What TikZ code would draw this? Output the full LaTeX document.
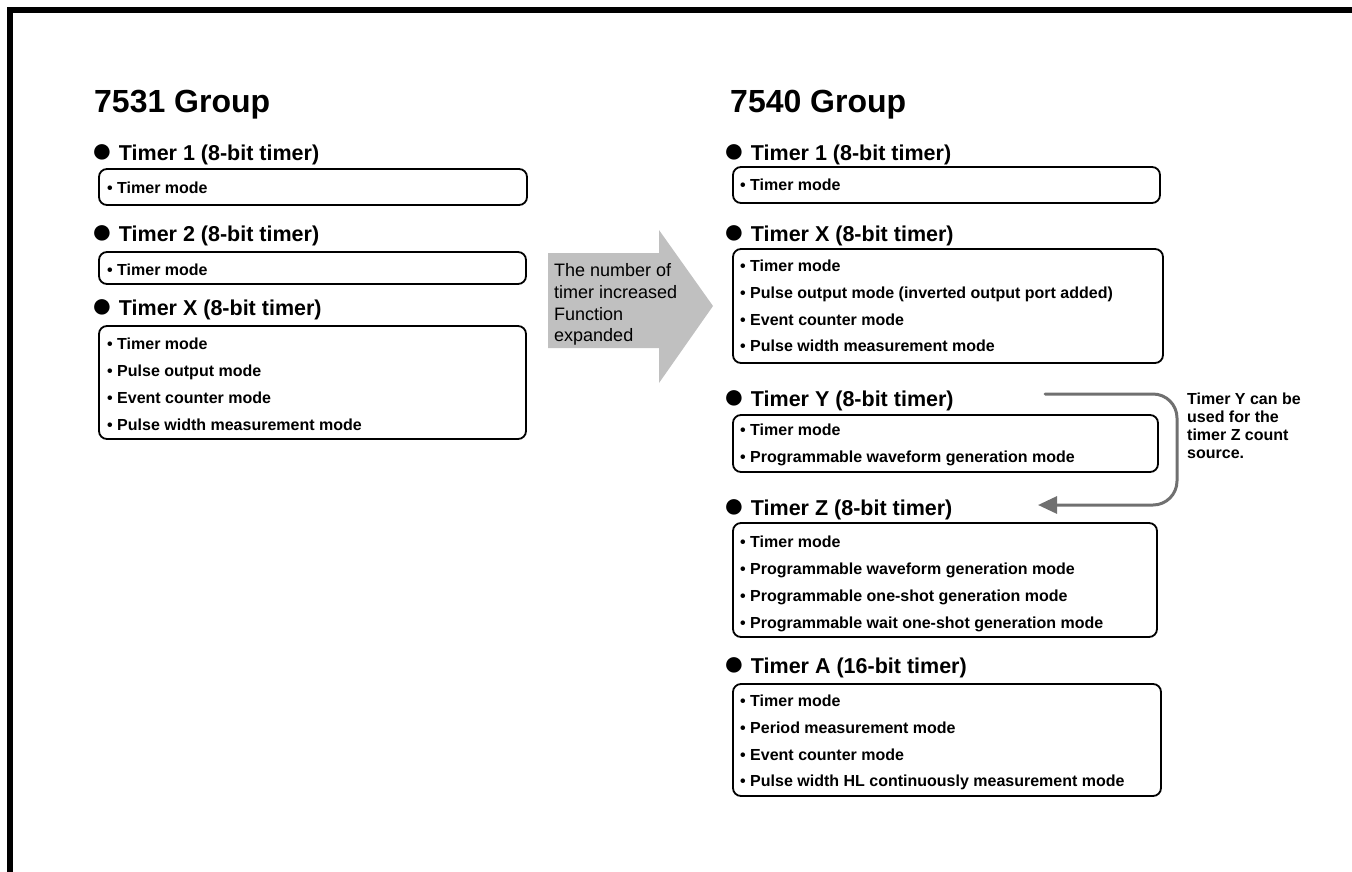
\documentclass[tikz,border=0pt]{standalone}
\usepackage{fontspec}
\setmainfont{Liberation Sans}
\usetikzlibrary{arrows.meta}

\tikzset{
  grouptitle/.style={anchor=base west, inner sep=0pt, font=\fontsize{32}{38}\selectfont\bfseries},
  timerhead/.style={anchor=base west, inner sep=0pt, font=\fontsize{21.5}{26}\selectfont\bfseries},
  modeitem/.style={anchor=base west, inner sep=0pt, font=\fontsize{16}{19}\selectfont\bfseries},
  modebox/.style={line width=1.8pt, rounded corners=8pt},
  notetext/.style={anchor=base west, inner sep=0pt, align=left, font=\fontsize{16}{17.7}\selectfont\bfseries},
  flowline/.style={draw=flowgray, line width=3pt, rounded corners=24pt, -{Triangle[length=19pt, width=17pt]}},
}
\definecolor{flowgray}{HTML}{707070}
\definecolor{bigarrow}{HTML}{C0C0C0}
\newcommand\hdot{\raisebox{-2pt}{\fontsize{36}{36}\selectfont ●}}

\begin{document}
\begin{tikzpicture}[x=1pt, y=-1pt, line cap=round, line join=round]

  %% ════ 外框（只有上边和左边）════
  \draw[line width=6pt, line join=miter, line cap=butt] (10,880) -- (10,10) -- (1360,10);

  %% ════ 中间的大灰箭头 ════
  %% ⚠ 多行 node 的 base 落在最后一行，所以坐标给最后一行的基线
  \fill[bigarrow] (548,253) -- (659,253) -- (659,230) -- (713,306) -- (659,383) -- (659,348) -- (548,348) -- cycle;
  \node[anchor=base west, inner sep=0pt, align=left, font=\fontsize{18}{21.7}\selectfont] (gain) at (554,341.7)
    {The number of\\timer increased\\Function\\expanded};

  %% ════ 左：7531 Group ════
  \node[grouptitle] (g7531) at (94,112) {7531 Group};

  \node[timerhead] (lh1) at (91,160.5) {\hdot\ Timer 1 (8-bit timer)};
  \draw[modebox] (99,169) rectangle (527,205);
  \node[modeitem] (l1a) at (107,193) {• Timer mode};

  \node[timerhead] (lh2) at (91,241.5) {\hdot\ Timer 2 (8-bit timer)};
  \draw[modebox] (99,252) rectangle (526,284);
  \node[modeitem] (l2a) at (107,275) {• Timer mode};

  \node[timerhead] (lhx) at (91,315.5) {\hdot\ Timer X (8-bit timer)};
  \draw[modebox] (99,326) rectangle (526,439);
  \node[modeitem] (lxa) at (107,349) {• Timer mode};
  \node[modeitem] (lxb) at (107,376) {• Pulse output mode};
  \node[modeitem] (lxc) at (107,403) {• Event counter mode};
  \node[modeitem] (lxd) at (107,430) {• Pulse width measurement mode};

  %% ════ 右：7540 Group ════
  \node[grouptitle] (g7540) at (730,112) {7540 Group};

  \node[timerhead] (rh1) at (723,160) {\hdot\ Timer 1 (8-bit timer)};
  \draw[modebox] (733,167) rectangle (1160,203);
  \node[modeitem] (r1a) at (740,190) {• Timer mode};

  \node[timerhead] (rhx) at (723,241) {\hdot\ Timer X (8-bit timer)};
  \draw[modebox] (733,249) rectangle (1163,363);
  \node[modeitem] (rxa) at (740,271.7) {• Timer mode};
  \node[modeitem] (rxb) at (740,298) {• Pulse output mode (inverted output port added)};
  \node[modeitem] (rxc) at (740,325) {• Event counter mode};
  \node[modeitem] (rxd) at (740,351.7) {• Pulse width measurement mode};

  \node[timerhead] (rhy) at (723,406) {\hdot\ Timer Y (8-bit timer)};
  \draw[modebox] (733,415) rectangle (1158,472);
  \node[modeitem] (rya) at (740,435) {• Timer mode};
  \node[modeitem] (ryb) at (740,462) {• Programmable waveform generation mode};

  \node[timerhead] (rhz) at (723,515) {\hdot\ Timer Z (8-bit timer)};
  \draw[modebox] (733,523) rectangle (1157,637);
  \node[modeitem] (rza) at (740,547.7) {• Timer mode};
  \node[modeitem] (rzb) at (740,574.3) {• Programmable waveform generation mode};
  \node[modeitem] (rzc) at (740,601.7) {• Programmable one-shot generation mode};
  \node[modeitem] (rzd) at (740,628.3) {• Programmable wait one-shot generation mode};

  \node[timerhead] (rha) at (723,673.3) {\hdot\ Timer A (16-bit timer)};
  \draw[modebox] (733,684) rectangle (1161,796);
  \node[modeitem] (raa) at (740,706.7) {• Timer mode};
  \node[modeitem] (rab) at (740,733.3) {• Period measurement mode};
  \node[modeitem] (rac) at (740,760) {• Event counter mode};
  \node[modeitem] (rad) at (740,786.7) {• Pulse width HL continuously measurement mode};

  %% ════ Timer Y → Timer Z 的灰色回线 ════
  \coordinate (ysrc) at (1045,394);
  \coordinate (zdst) at (1038,505);
  \draw[flowline] (ysrc) -- ++(132,0) |- (zdst);
  \node[notetext] (ynote) at (1187,458) {Timer Y can be\\used for the\\timer Z count\\source.};

  % 钉死画布
  \pgfresetboundingbox
  \path[use as bounding box] (0,0) rectangle (1352,871);
\end{tikzpicture}
\end{document}
